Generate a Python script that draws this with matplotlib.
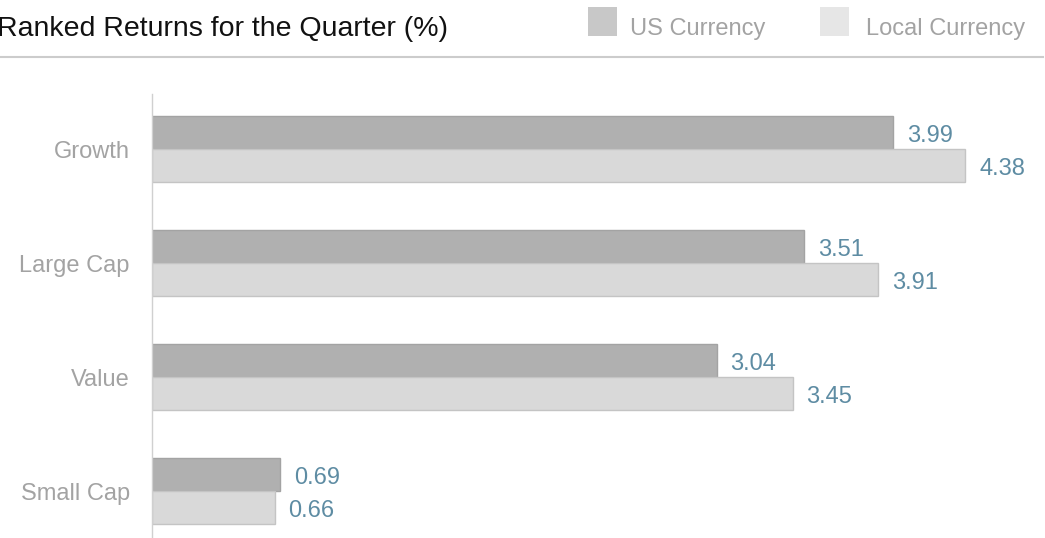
import numpy as np
import matplotlib.pyplot as plt
from matplotlib.patches import Rectangle
from matplotlib.lines import Line2D

plt.rcParams['font.family'] = ['Liberation Sans', 'DejaVu Sans']

categories = ['Growth', 'Large Cap', 'Value', 'Small Cap']
us_currency = [3.99, 3.51, 3.04, 0.69]
local_currency = [4.38, 3.91, 3.45, 0.66]
series_names = ['US Currency', 'Local Currency']

bar_colors = ['#b0b0b0', '#d9d9d9']
edge_colors = ['#a3a3a3', '#c4c4c4']
legend_colors = ['#c8c8c8', '#e6e6e6']
label_color = '#5e8ca3'
text_gray = '#a3a3a3'

W, H = 1045, 538
fig = plt.figure(figsize=(W / 100, H / 100), dpi=100)

# axes: left edge at the vertical axis line, top at y=94px
ax = fig.add_axes([152 / W, 0, 1 - 152 / W, 1 - 94 / H])

y = np.arange(len(categories))
h = 0.29
ax.barh(y - h / 2, us_currency, height=h, color=bar_colors[0],
        edgecolor=edge_colors[0], linewidth=1)
ax.barh(y + h / 2, local_currency, height=h, color=bar_colors[1],
        edgecolor=edge_colors[1], linewidth=1)

# value labels, centred on their own bar
for i in range(len(categories)):
    ax.annotate(f'{us_currency[i]:.2f}', (us_currency[i], y[i] - h / 2),
                xytext=(10, -2.5), textcoords='offset points', va='center',
                ha='left', fontsize=17, color=label_color)
    ax.annotate(f'{local_currency[i]:.2f}', (local_currency[i], y[i] + h / 2),
                xytext=(10, -2.5), textcoords='offset points', va='center',
                ha='left', fontsize=17, color=label_color)

ax.set_xlim(0, 893 / 185.7)
ax.set_ylim(3.41, -0.485)
ax.set_yticks(y)
ax.set_yticklabels(categories, fontsize=17, color=text_gray)
ax.tick_params(axis='y', length=0, pad=16)
ax.set_xticks([])
for s in ['top', 'right', 'bottom']:
    ax.spines[s].set_visible(False)
ax.spines['left'].set_color('#d0d0d0')
ax.spines['left'].set_linewidth(1)

# title, rule and legend above the plot
fig.text(-3 / W, 1 - 29 / H, 'Ranked Returns for the Quarter (%)',
         fontsize=20.5, color='#111111', va='center', ha='left')
fig.add_artist(Line2D([0, 1043 / W], [1 - 57 / H, 1 - 57 / H],
                      color='#cccccc', linewidth=1.5, transform=fig.transFigure))

legend_x = [588, 820]
text_x = [630, 866]
for k in range(2):
    fig.add_artist(Rectangle((legend_x[k] / W, 1 - 36 / H), 29 / W, 29 / H,
                             transform=fig.transFigure, color=legend_colors[k],
                             linewidth=0))
    fig.text(text_x[k] / W, 1 - 29 / H, series_names[k], fontsize=17,
             color=text_gray, va='center', ha='left')

fig.savefig('out.png', dpi=100)
